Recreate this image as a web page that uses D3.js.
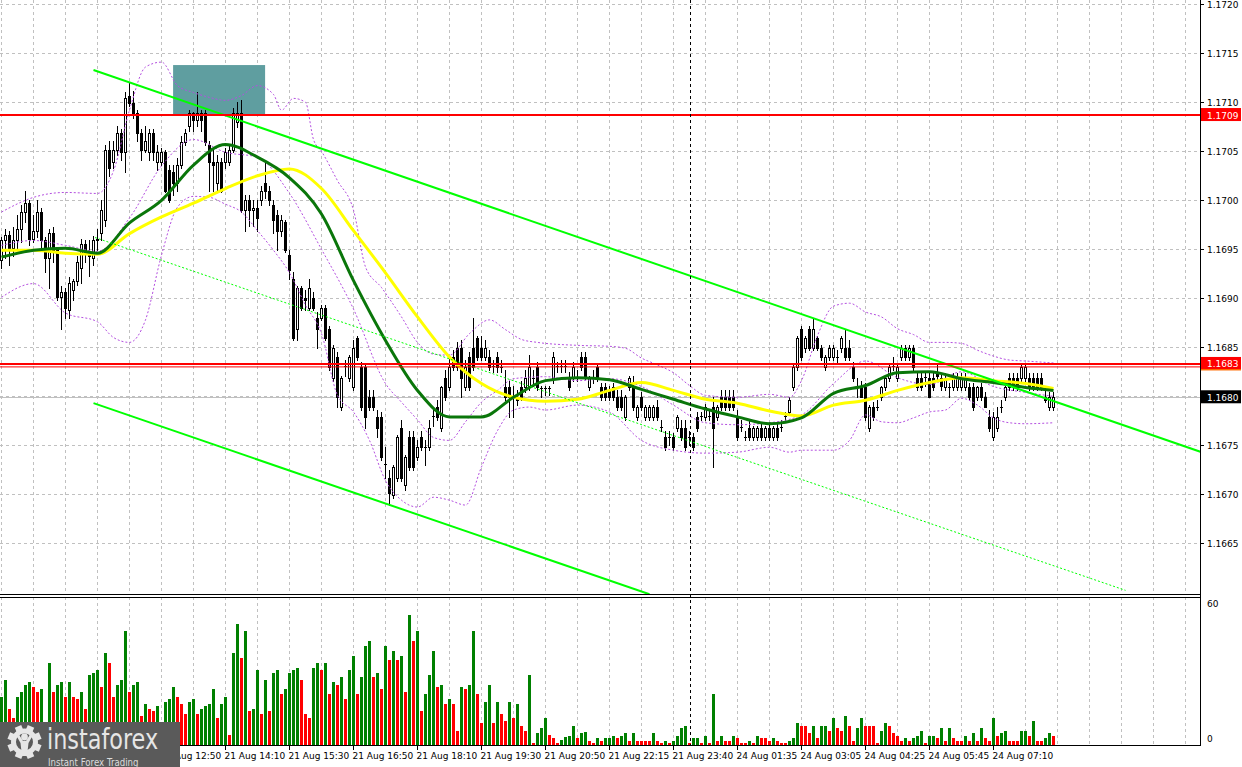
<!DOCTYPE html>
<html>
<head>
<meta charset="utf-8">
<script src="https://cdn.jsdelivr.net/npm/d3@7"></script>
<style>
  body { margin: 0; background: #fff; }
  svg { display: block; }
</style>
</head>
<body>
<svg id="chart" width="1242" height="767"></svg>
<script>
// EURUSD M5, prices kept in points (1 point = 0.00001)
const openPts = [116939,116959,116965,116951,116959,116971,116988,116997,116961,116969,
116988,116959,116941,116967,116949,116901,116906,116888,116908,116918,
116931,116955,116947,116941,116959,116967,116980,117051,117039,117051,
117069,117049,117106,117099,117089,117069,117051,117049,117069,117039,
117039,117049,117031,117029,117018,117036,117059,117076,117089,117082,
117089,117089,117056,117039,117018,117039,117039,117039,117051,117080,
117089,116990,117000,116990,116992,117000,117018,117010,116995,116985,
116969,116978,116944,116920,116869,116910,116900,116890,116900,116880,
116880,116890,116869,116819,116840,116789,116830,116819,116809,116859,
116830,116830,116799,116799,116779,116779,116730,116717,116699,116717,
116768,116709,116758,116758,116738,116758,116748,116748,116779,116789,
116768,116819,116809,116840,116849,116849,116809,116840,116849,116859,
116849,116840,116840,116830,116840,116830,116809,116809,116799,116799,
116809,116809,116809,116819,116830,116808,116808,116808,116818,116830,
116830,116830,116819,116819,116819,116840,116840,116809,116819,116830,
116809,116809,116806,116809,116799,116799,116779,116809,116809,116779,
116799,116779,116779,116779,116789,116768,116758,116758,116758,116768,
116768,116768,116758,116758,116779,116779,116779,116779,116789,116779,
116799,116799,116799,116799,116779,116768,116758,116768,116758,116758,
116768,116758,116768,116758,116768,116768,116779,116784,116809,116830,
116869,116849,116869,116849,116859,116849,116830,116840,116840,116840,
116849,116849,116849,116830,116809,116809,116809,116768,116789,116789,
116799,116809,116819,116830,116819,116840,116849,116840,116849,116819,
116819,116819,116819,116819,116825,116819,116809,116809,116809,116809,
116809,116809,116809,116809,116799,116809,116799,116779,116758,116768,
116789,116799,116819,116819,116819,116819,116819,116819,116819,116819,
116819,116799,116789,116789];

const highPts = [116963,116971,116969,116973,116985,116995,117010,117000,116985,117000,
116992,116963,116971,116973,116951,116913,116910,116922,116920,116943,
116961,116959,116959,116964,116971,117000,117056,117061,117061,117076,
117073,117110,117120,117112,117092,117073,117076,117073,117073,117056,
117053,117051,117036,117036,117043,117066,117073,117092,117090,117110,
117092,117092,117061,117051,117046,117043,117053,117056,117094,117100,
117102,117005,117005,117000,117000,117015,117041,117015,117000,116990,
116985,116980,116949,116927,116913,116913,116908,116920,116906,116886,
116893,116893,116872,116852,116845,116821,116837,116842,116857,116862,
116835,116832,116806,116806,116786,116784,116748,116725,116730,116760,
116776,116740,116765,116765,116755,116765,116755,116776,116786,116796,
116811,116827,116840,116847,116855,116857,116837,116845,116880,116862,
116862,116857,116847,116837,116845,116837,116827,116816,116811,116806,
116816,116827,116842,116827,116835,116811,116811,116811,116845,116835,
116837,116837,116825,116835,116827,116845,116845,116821,116827,116832,
116814,116814,116811,116814,116806,116806,116801,116821,116821,116791,
116804,116791,116791,116791,116796,116776,116765,116765,116763,116781,
116776,116776,116765,116763,116784,116784,116792,116786,116799,116791,
116806,116806,116806,116806,116786,116776,116765,116776,116770,116770,
116774,116770,116774,116770,116774,116776,116784,116799,116832,116862,
116872,116862,116872,116880,116862,116852,116842,116852,116852,116847,
116862,116869,116857,116835,116819,116816,116814,116791,116794,116796,
116811,116821,116832,116840,116832,116852,116852,116852,116852,116824,
116824,116824,116824,116824,116832,116824,116824,116814,116824,116824,
116824,116824,116814,116814,116811,116814,116804,116786,116784,116789,
116796,116811,116824,116824,116824,116832,116832,116824,116824,116824,
116824,116809,116804,116804];

const lowPts = [116931,116941,116934,116943,116949,116957,116978,116954,116957,116963,
116951,116927,116911,116937,116898,116869,116880,116880,116898,116914,
116916,116937,116923,116934,116949,116959,116974,117025,117033,117046,
117041,117029,117096,117084,117061,117041,117049,117041,117041,117031,
117036,117008,116998,117005,117010,117033,117056,117071,117071,117076,
117071,117056,117010,117010,117010,117008,117033,117036,117049,117075,
116988,116969,116974,116974,116969,116995,117002,116995,116967,116949,
116964,116947,116920,116857,116857,116888,116888,116888,116888,116849,
116878,116857,116827,116816,116789,116786,116821,116816,116806,116837,
116786,116768,116786,116786,116758,116735,116717,116689,116696,116714,
116714,116704,116725,116725,116735,116745,116730,116745,116770,116776,
116765,116796,116806,116827,116827,116799,116806,116806,116827,116837,
116837,116837,116827,116825,116825,116825,116796,116779,116779,116791,
116796,116804,116806,116811,116806,116799,116801,116801,116814,116825,
116825,116825,116806,116816,116816,116827,116818,116806,116814,116816,
116796,116796,116796,116796,116786,116786,116776,116806,116786,116776,
116786,116776,116776,116776,116776,116765,116745,116750,116745,116765,
116755,116745,116750,116745,116765,116776,116776,116776,116728,116776,
116786,116786,116786,116786,116755,116765,116755,116755,116755,116755,
116755,116755,116755,116755,116755,116765,116776,116781,116806,116827,
116837,116845,116847,116847,116847,116837,116827,116837,116837,116835,
116845,116837,116837,116816,116799,116799,116776,116765,116776,116786,
116796,116806,116816,116827,116816,116837,116837,116837,116827,116806,
116806,116811,116799,116806,116816,116806,116806,116799,116806,116806,
116806,116806,116796,116786,116796,116796,116789,116765,116755,116765,
116784,116796,116806,116806,116806,116816,116816,116806,116806,116806,
116806,116794,116786,116786];

const closePts = [116959,116965,116951,116959,116971,116988,116997,116961,116969,116988,
116959,116941,116967,116949,116901,116906,116890,116916,116918,116937,
116955,116947,116943,116959,116961,116990,117051,117033,117051,117069,
117049,117104,117099,117089,117069,117051,117060,117069,117049,117049,
117049,117010,117000,117018,117036,117059,117069,117089,117082,117089,
117082,117059,117039,117036,117039,117010,117049,117051,117089,117089,
116990,117000,116990,116992,116982,117010,117010,117000,116980,116969,
116980,116949,116929,116859,116910,116890,116898,116910,116890,116869,
116890,116859,116830,116849,116799,116819,116830,116840,116849,116840,
116789,116779,116789,116789,116768,116738,116730,116701,116728,116758,
116717,116738,116728,116728,116748,116748,116748,116768,116779,116779,
116809,116799,116830,116830,116830,116819,116830,116809,116830,116840,
116840,116849,116830,116830,116830,116829,116799,116799,116799,116796,
116799,116819,116830,116818,116809,116808,116808,116808,116840,116830,
116830,116830,116809,116830,116819,116830,116819,116819,116819,116819,
116799,116799,116799,116799,116789,116789,116799,116819,116789,116789,
116789,116789,116789,116789,116779,116768,116748,116758,116748,116779,
116758,116748,116758,116748,116768,116779,116789,116779,116768,116789,
116789,116789,116789,116789,116758,116768,116758,116758,116768,116768,
116758,116768,116758,116768,116758,116768,116779,116796,116830,116859,
116840,116859,116849,116869,116849,116840,116840,116849,116849,116840,
116859,116840,116840,116819,116809,116799,116779,116789,116779,116789,
116809,116819,116830,116830,116830,116849,116840,116849,116830,116809,
116809,116819,116799,116809,116821,116811,116819,116809,116819,116819,
116819,116819,116799,116789,116809,116799,116789,116768,116779,116779,
116789,116809,116809,116809,116809,116830,116830,116809,116809,116809,
116809,116796,116799,116799];

// tick volume per bar
const volumes = [20,27,15,11,20,22,25,26,24,22,
23,8,34,22,25,26,20,26,20,19,
22,15,29,30,31,24,38,34,20,25,
27,47,22,25,26,12,17,15,14,16,
9,18,19,24,20,17,13,18,19,13,
15,16,17,23,11,17,20,4,38,50,
36,47,14,15,31,13,27,14,30,31,
21,23,30,31,32,27,13,11,32,34,
31,34,21,26,25,28,19,31,37,21,
28,41,43,28,30,23,41,35,39,35,
37,22,54,43,47,14,21,29,39,24,
25,17,19,17,6,24,23,25,47,21,
9,18,25,9,18,13,10,18,11,17,
8,6,29,1,5,7,11,4,3,1,
2,3.2,3.6,7.7,3,5,5.3,1.6,1,3,
1.7,2.9,3.1,3.7,2.9,3.7,5,1.7,5,1.7,
1.7,1.7,1.7,5,1.7,0.8,1.7,0.8,1.7,3.7,
7,7.8,0.8,2.9,3,0.8,3.7,0.8,21,1.7,
3.7,1.7,1.7,3.7,2.9,0.8,0.8,1.7,0.8,3.7,
2.9,2.9,1.7,2.9,1.7,0.8,0.8,1.7,2.9,9,
7.8,7.8,5,7.8,2.9,7.8,7.9,5.8,11.2,7,
5.8,12,7.8,1.7,7,11.2,7.8,7.8,7.8,0.8,
5.8,9,7.8,5,3.7,1.7,2.9,1.7,2.9,3.7,
5.8,0.8,3.7,3.8,2.9,7,1.7,7,2.9,1.7,
1.7,3.7,1.7,5,1.7,7,2.9,1.7,11.2,3.7,
5,5.8,1.7,1.7,1.7,5.8,5.9,3.7,9.9,1.7,
1.7,2.9,5,3.7];

// visible time labels (the two earlier ones sit under the logo)
const timeLabels = ["21 Aug 12:50","21 Aug 14:10","21 Aug 15:30",
  "21 Aug 16:50","21 Aug 18:10","21 Aug 19:30","21 Aug 20:50","21 Aug 22:15","21 Aug 23:40",
  "24 Aug 01:35","24 Aug 03:05","24 Aug 04:25","24 Aug 05:45","24 Aug 07:10"];
const timeLabelBars = [40,56,72,88,104,120,136,152,168,184,200,216,232,248];

const priceTicks = [1.1665,1.1670,1.1675,1.1680,1.1685,1.1690,1.1695,1.1700,1.1705,1.1710,1.1715,1.1720];

// moving averages read every 8 bars (points)
const maBars = [0,8,16,24,32,40,48,56,64,72,80,88,96,104,112,120,128,136,144,152,160,168,176,184,192,200,208,216,224,232,240,248,256,263];
const ma30Pts = [116942,116949,116951,116946,116977,117000,117036,117057,117044,117023,116986,116918,116857,116806,116779,116779,116799,116816,116819,116817,116807,116797,116787,116779,116772,116778,116803,116811,116824,116825,116818,116814,116809,116806];
const ma50Pts = [116949,116949,116946,116945,116966,116983,116997,117012,117025,117032,117012,116969,116926,116881,116840,116813,116799,116795,116797,116806,116814,116806,116797,116793,116785,116780,116791,116796,116806,116814,116819,116816,116813,116808];

// bollinger bands, [bar, points]
const bandUpper = [[0,116988],[8,117003],[16,117008],[24,117007],[28,117030],[32,117092],[36,117136],[40,117141],[44,117117],[48,117110],[52,117105],[56,117102],[60,117107],[64,117117],[68,117108],[70,117092],[73,117104],[76,117100],[78,117062],[80,117050],[84,117020],[88,116990],[91,116932],[95,116911],[100,116881],[104,116855],[108,116843],[112,116842],[117,116864],[122,116878],[126,116868],[130,116858],[134,116855],[144,116852],[152,116851],[156,116849],[160,116839],[164,116832],[168,116824],[172,116811],[176,116801],[184,116799],[192,116802],[197,116799],[200,116816],[204,116862],[208,116892],[212,116895],[216,116886],[220,116881],[224,116869],[228,116863],[232,116855],[236,116855],[240,116854],[244,116847],[248,116841],[252,116837],[256,116836],[263,116834]];
const bandMiddle = [[0,116954],[8,116959],[16,116954],[24,116948],[32,116982],[40,117035],[48,117062],[56,117049],[64,117044],[72,117007],[80,116950],[88,116889],[96,116813],[100,116794],[104,116776],[108,116758],[112,116755],[116,116774],[120,116794],[124,116806],[128,116818],[136,116820],[144,116816],[152,116818],[160,116810],[168,116791],[176,116773],[184,116771],[192,116773],[200,116781],[208,116813],[216,116836],[224,116819],[232,116812],[240,116825],[248,116810],[256,116804],[263,116800]];
const bandLower = [[0,116901],[8,116915],[16,116885],[24,116876],[28,116860],[32,116855],[36,116878],[40,116944],[44,116993],[48,117004],[52,117003],[56,116996],[60,116988],[64,116969],[68,116949],[72,116926],[76,116893],[80,116864],[84,116801],[88,116784],[92,116755],[96,116714],[100,116694],[104,116687],[108,116697],[112,116694],[116,116689],[120,116728],[124,116765],[128,116786],[132,116789],[136,116786],[144,116791],[152,116784],[160,116755],[168,116745],[176,116742],[184,116743],[192,116748],[197,116743],[200,116745],[208,116745],[212,116755],[216,116781],[220,116774],[224,116773],[228,116778],[232,116784],[236,116786],[240,116798],[244,116791],[248,116778],[252,116773],[256,116772],[263,116773]];

// drawn objects
const channelLines = [[[23, 1.17133], [300, 1.16743]], [[23, 1.16793], [162, 1.16598]]];
const dottedLine = [[23.4, 1.16962], [281, 1.16602]];
const redLevels = [{p: 1.17087, w: 2, label: "1.1709"}, {p: 1.16833, w: 2, label: "1.1683"}, {p: 1.16830, w: 1}];
const bidPrice = 1.16799;
const zone = {b0: 42.9, b1: 65.9, top: 1.17138, bottom: 1.17087};
const separatorBar = 172.2;

const W = 1242, H = 767, axisX = 1200;
const mainBottom = 594, volTop = 597, volBottom = 745;
const font = "DejaVu Sans, Verdana, sans-serif";

const svg = d3.select("#chart");
const pt = v => v / 100000;

const x = d3.scaleLinear().domain([0, 300]).range([1.5, 1201.5]);
const y = d3.scaleLinear().domain([1.1660, 1.1720]).range([592.3, 4.3]);
const yv = d3.scaleLinear().domain([0, 60]).range([volBottom, 600]);

const bars = openPts.map((o, i) => ({
  i, o: pt(o), h: pt(highPts[i]), l: pt(lowPts[i]), c: pt(closePts[i]), v: volumes[i]
}));

const defs = svg.append("defs");
defs.append("clipPath").attr("id", "clipMain")
  .append("rect").attr("x", 0).attr("y", 0).attr("width", axisX).attr("height", mainBottom);
defs.append("clipPath").attr("id", "clipVol")
  .append("rect").attr("x", 0).attr("y", volTop).attr("width", axisX).attr("height", volBottom - volTop);

svg.append("rect").attr("width", W).attr("height", H).attr("fill", "#fff");

const main = svg.append("g").attr("clip-path", "url(#clipMain)");
const vol = svg.append("g").attr("clip-path", "url(#clipVol)");
const crisp = v => Math.round(v - 0.5) + 0.5;

// grid
const gridBars = d3.range(0, 300, 8);
main.selectAll(".hg").data(priceTicks).join("line")
  .attr("x1", 0).attr("x2", axisX)
  .attr("y1", d => crisp(y(d))).attr("y2", d => crisp(y(d)))
  .attr("stroke", "#c0c0c0").attr("stroke-dasharray", "3,3");
main.selectAll(".vg").data(gridBars).join("line")
  .attr("x1", d => x(d)).attr("x2", d => x(d))
  .attr("y1", 0).attr("y2", mainBottom)
  .attr("stroke", "#c0c0c0").attr("stroke-dasharray", "3,3");
vol.selectAll(".vg").data(gridBars).join("line")
  .attr("x1", d => x(d)).attr("x2", d => x(d))
  .attr("y1", volTop).attr("y2", volBottom)
  .attr("stroke", "#c0c0c0").attr("stroke-dasharray", "3,3");

// zone rectangle (background object)
main.append("rect")
  .attr("x", x(zone.b0)).attr("width", x(zone.b1) - x(zone.b0))
  .attr("y", y(zone.top)).attr("height", y(zone.bottom) - y(zone.top))
  .attr("fill", "#5f9ea0");

// bid line
main.append("line").attr("x1", 0).attr("x2", axisX)
  .attr("y1", crisp(y(bidPrice))).attr("y2", crisp(y(bidPrice)))
  .attr("stroke", "#c0c0c0");

// candles
const cg = main.append("g").attr("shape-rendering", "crispEdges");
cg.selectAll(".wick").data(bars).join("line")
  .attr("x1", d => x(d.i)).attr("x2", d => x(d.i))
  .attr("y1", d => Math.round(y(d.h))).attr("y2", d => Math.round(y(d.l)) + 1)
  .attr("stroke", "#000");
cg.selectAll(".body").data(bars.filter(d => Math.abs(y(d.o) - y(d.c)) >= 1.5)).join("rect")
  .attr("x", d => x(d.i) - 1).attr("width", 2)
  .attr("y", d => Math.round(y(Math.max(d.o, d.c))) + 0.5)
  .attr("height", d => Math.max(1, Math.round(y(Math.min(d.o, d.c))) - Math.round(y(Math.max(d.o, d.c)))))
  .attr("fill", d => d.c > d.o ? "#fff" : "#000")
  .attr("stroke", "#000");
cg.selectAll(".doji").data(bars.filter(d => Math.abs(y(d.o) - y(d.c)) < 1.5)).join("line")
  .attr("x1", d => x(d.i) - 1.5).attr("x2", d => x(d.i) + 1.5)
  .attr("y1", d => crisp(y(d.c))).attr("y2", d => crisp(y(d.c)))
  .attr("stroke", "#000");

// bollinger bands
const bandLine = d3.line().x(d => x(d[0])).y(d => y(pt(d[1]))).curve(d3.curveMonotoneX);
[bandUpper, bandMiddle, bandLower].forEach(band => {
  main.append("path").attr("d", bandLine(band))
    .attr("fill", "none").attr("stroke", "#b44fe0").attr("stroke-width", 1)
    .attr("stroke-dasharray", "2,2");
});

// moving averages
const maLine = d3.line().x(d => x(d[0])).y(d => y(pt(d[1]))).curve(d3.curveMonotoneX);
main.append("path").attr("d", maLine(maBars.map((b, k) => [b, ma50Pts[k]])))
  .attr("fill", "none").attr("stroke", "#ffff00").attr("stroke-width", 3);
main.append("path").attr("d", maLine(maBars.map((b, k) => [b, ma30Pts[k]])))
  .attr("fill", "none").attr("stroke", "#0a760a").attr("stroke-width", 3);

// trend lines
channelLines.forEach(seg => {
  main.append("line")
    .attr("x1", x(seg[0][0])).attr("y1", y(seg[0][1]))
    .attr("x2", x(seg[1][0])).attr("y2", y(seg[1][1]))
    .attr("stroke", "#00ff00").attr("stroke-width", 2);
});
main.append("line")
  .attr("x1", x(dottedLine[0][0])).attr("y1", y(dottedLine[0][1]))
  .attr("x2", x(dottedLine[1][0])).attr("y2", y(dottedLine[1][1]))
  .attr("stroke", "#00ff00").attr("stroke-width", 1).attr("stroke-dasharray", "2,2");

// horizontal levels
redLevels.forEach(l => {
  main.append("line").attr("x1", 0).attr("x2", axisX)
    .attr("y1", y(l.p)).attr("y2", y(l.p))
    .attr("stroke", "#ff0000").attr("stroke-width", l.w);
});

// volumes
vol.selectAll(".vb").data(bars).join("rect")
  .attr("x", d => x(d.i) - 1.5).attr("width", 3)
  .attr("y", d => Math.round(yv(d.v)))
  .attr("height", d => volBottom - Math.round(yv(d.v)))
  .attr("fill", (d, i) => (i === 0 || d.v > bars[i - 1].v) ? "#008000" : "#ff0000")
  .attr("shape-rendering", "crispEdges");

// day separator
svg.append("line").attr("x1", crisp(x(separatorBar))).attr("x2", crisp(x(separatorBar)))
  .attr("y1", 0).attr("y2", volBottom)
  .attr("stroke", "#000").attr("stroke-dasharray", "3,3");

// frames
const frame = svg.append("g").attr("stroke", "#000").attr("shape-rendering", "crispEdges");
frame.append("line").attr("x1", axisX + 0.5).attr("x2", axisX + 0.5).attr("y1", 0).attr("y2", volBottom + 1);
frame.append("line").attr("x1", 0).attr("x2", axisX).attr("y1", mainBottom + 0.5).attr("y2", mainBottom + 0.5);
frame.append("line").attr("x1", 0).attr("x2", axisX).attr("y1", volTop + 0.5).attr("y2", volTop + 0.5);
frame.append("line").attr("x1", 0).attr("x2", axisX + 1).attr("y1", volBottom + 0.5).attr("y2", volBottom + 0.5);

// price axis
const axisG = svg.append("g").attr("font-family", font).attr("font-size", "9px").attr("fill", "#000");
priceTicks.forEach(p => {
  axisG.append("line").attr("x1", axisX).attr("x2", axisX + 4)
    .attr("y1", crisp(y(p))).attr("y2", crisp(y(p))).attr("stroke", "#000");
  if (Math.abs(p - 1.1680) > 1e-6) {
    axisG.append("text").attr("x", axisX + 7).attr("y", y(p) + 3.5).text(p.toFixed(4));
  }
});
const priceBox = (p, txt, fill, under) => {
  const yy = y(p);
  axisG.append("rect").attr("x", axisX + 1).attr("y", yy - 7).attr("width", 40).attr("height", 13).attr("fill", fill);
  if (under) axisG.append("rect").attr("x", axisX + 1).attr("y", yy + 5).attr("width", 40).attr("height", 1.5).attr("fill", under);
  axisG.append("text").attr("x", axisX + 7).attr("y", yy + 3.5).attr("fill", "#fff").text(txt);
};
priceBox(redLevels[0].p, redLevels[0].label, "#ff0000");
priceBox(redLevels[1].p, redLevels[1].label, "#ff0000", "#ff6a00");
priceBox(bidPrice, "1.1680", "#000");

// volume axis
axisG.append("text").attr("x", axisX + 7).attr("y", 607).text("60");
axisG.append("text").attr("x", axisX + 7).attr("y", 742).text("0");

// time axis
timeLabelBars.forEach((b, k) => {
  axisG.append("line").attr("x1", crisp(x(b))).attr("x2", crisp(x(b)))
    .attr("y1", volBottom).attr("y2", volBottom + 5).attr("stroke", "#000");
  axisG.append("text").attr("x", x(b) - 1).attr("y", 759).text(timeLabels[k]);
});

// logo
const logo = svg.append("g");
logo.append("rect").attr("x", 0).attr("y", 722).attr("width", 180).attr("height", 45).attr("fill", "#5a5a5a");
const gear = logo.append("g").attr("transform", "translate(24.5,742)").attr("fill", "#e6e6e6");
d3.range(8).forEach(k => {
  gear.append("rect").attr("x", -3.5).attr("y", -17).attr("width", 7).attr("height", 7)
    .attr("transform", `rotate(${k * 45 + 22.5})`);
});
gear.append("circle").attr("r", 11).attr("fill", "none").attr("stroke", "#e6e6e6").attr("stroke-width", 5);
gear.append("circle").attr("cx", 0).attr("cy", -5).attr("r", 3.4);
gear.append("path").attr("d", "M-8.5,-7 L-4,1 L-2.5,14 L2.5,14 L4,1 L8.5,-7 L5.2,-7 L1.5,-1 L-1.5,-1 L-5.2,-7Z");
logo.append("g").attr("transform", "translate(47,748.5) scale(0.77,1)")
  .append("text").attr("x", 0).attr("y", 0).attr("font-family", "DejaVu Sans, sans-serif")
  .attr("font-size", "29px").attr("fill", "#e6e6e6").text("instaforex");
logo.append("g").attr("transform", "translate(48,765.5) scale(0.82,1)")
  .append("text").attr("x", 0).attr("y", 0).attr("font-family", "DejaVu Sans, sans-serif")
  .attr("font-size", "10.5px").attr("fill", "#dcdcdc").text("Instant Forex Trading");
</script>
</body>
</html>
